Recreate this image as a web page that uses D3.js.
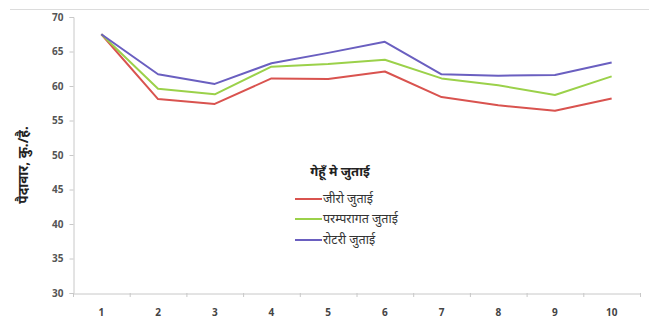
<!DOCTYPE html>
<html><head><meta charset="utf-8">
<script src="https://cdn.jsdelivr.net/npm/d3@7"></script>
<style>body{margin:0;background:#fff}svg{display:block}</style>
</head><body>
<script>
const categories = ["1","2","3","4","5","6","7","8","9","10"];
const seriesNames = ["जीरो जुताई","परम्परागत जुताई","रोटरी जुताई"];
const zeroTill = [67.5,58.1,57.4,61.1,61.0,62.1,58.4,57.2,56.4,58.2];
const conventional = [67.5,59.6,58.8,62.8,63.2,63.8,61.1,60.1,58.7,61.4];
const rotary = [67.5,61.7,60.3,63.3,64.8,66.4,61.7,61.5,61.6,63.4];
const yTicks = [30,35,40,45,50,55,60,65,70];
const colors = ["#d9534f","#9bd14a","#6a5fc0"];
const legendTitle = "गेहूँ मे जुताई";
const yTitle = "पैदावार, कु./है.";

const W=649,H=325;
const svg=d3.select("body").append("svg").attr("width",W).attr("height",H);
const font="'Noto Sans', 'DejaVu Sans', sans-serif";

svg.append("line").attr("x1",10).attr("x2",649).attr("y1",9.5).attr("y2",9.5).attr("stroke","#dcdcdc");

const x=d3.scaleBand().domain(categories).range([73,640]);
const y=d3.scaleLinear().domain([30,70]).range([293,17]);

const gy=svg.append("g").attr("transform","translate(73.5,0)")
  .call(d3.axisLeft(y).tickValues(yTicks).tickSize(4).tickPadding(6));
gy.select(".domain").attr("stroke","#c8c8c8");
gy.selectAll(".tick line").attr("stroke","#c8c8c8");
gy.selectAll("text").attr("font-family",font).attr("font-size",10).attr("font-weight","bold").attr("fill","#555");

const gx=svg.append("g").attr("transform","translate(0,293.5)")
  .call(d3.axisBottom(x).tickSize(0).tickPadding(15));
gx.select(".domain").attr("stroke","#c8c8c8");
gx.selectAll("text").attr("font-family",font).attr("font-size",10).attr("font-weight","bold").attr("fill","#444");
svg.append("g").selectAll("line").data(categories.concat(["end"])).join("line")
  .attr("x1",(d,i)=>73+i*x.step()+0.5).attr("x2",(d,i)=>73+i*x.step()+0.5)
  .attr("y1",293).attr("y2",297).attr("stroke","#c8c8c8");

const series=[zeroTill,conventional,rotary];
const line=d3.line().x((d,i)=>x(categories[i])+x.bandwidth()/2).y(d=>y(d));
series.forEach((s,k)=>{
  svg.append("path").datum(s).attr("d",line).attr("fill","none")
    .attr("stroke",colors[k]).attr("stroke-width",2).attr("stroke-linejoin","round");
});

svg.append("text").attr("transform","translate(28,165) rotate(-90)")
  .attr("text-anchor","middle").attr("font-family",font).attr("font-size",13.5)
  .attr("font-weight","bold").attr("fill","#222").text(yTitle);

svg.append("text").attr("x",340).attr("y",176).attr("text-anchor","middle")
  .attr("font-family",font).attr("font-size",13).attr("font-weight","bold").attr("fill","#222").text(legendTitle);
const ly=[199,219,240];
seriesNames.forEach((n,k)=>{
  svg.append("line").attr("x1",295).attr("x2",322).attr("y1",ly[k]).attr("y2",ly[k])
    .attr("stroke",colors[k]).attr("stroke-width",2);
  svg.append("text").attr("x",323).attr("y",ly[k]+4).attr("font-family",font).attr("font-size",12.5)
    .attr("fill","#333").text(n);
});
</script>
</body></html>
